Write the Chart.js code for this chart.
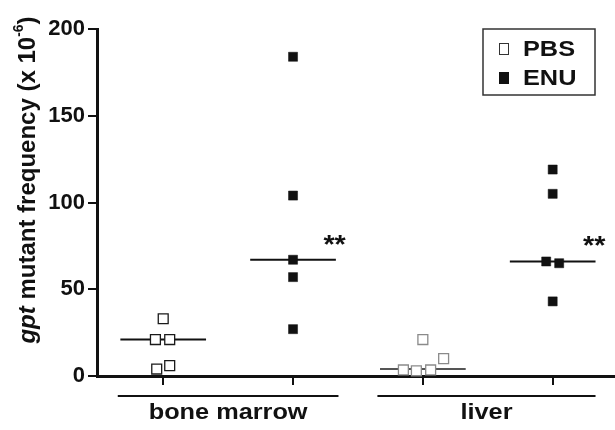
<!DOCTYPE html>
<html><head><meta charset="utf-8">
<script src="https://cdn.jsdelivr.net/npm/chart.js@4.4.0/dist/chart.umd.min.js"></script>
<style>html,body{margin:0;padding:0;background:#fff;}#wrap{width:615px;height:430px;}</style>
</head><body><div id="wrap"><canvas id="c" width="615" height="430"></canvas></div>
<script>
// ---- data ----
const categories = ['bone marrow', 'liver'];
const seriesNames = ['PBS', 'ENU'];
const yTicks = [0, 50, 100, 150, 200];
const xPositions = [0, 1, 2, 3]; // PBS-bone marrow, ENU-bone marrow, PBS-liver, ENU-liver
const pbsBoneMarrow = [33, 21, 21, 4, 6];
const pbsBoneMarrowJitter = [0, -0.06, 0.05, -0.05, 0.05];
const enuBoneMarrow = [184, 104, 67, 57, 27];
const enuBoneMarrowJitter = [0, 0, 0, 0, 0];
const pbsLiver = [21, 10, 3.5, 3, 3.5];
const pbsLiverJitter = [0, 0.16, -0.15, -0.05, 0.06];
const enuLiver = [119, 105, 66, 65, 43];
const enuLiverJitter = [0, 0, -0.05, 0.05, 0];
const medians = [21, 67, 4, 66];
const significance = ['', '**', '', '**'];
const groupSpans = [[-0.35, 1.35], [1.65, 3.33]];

const FONT = '"Liberation Sans", Arial, Helvetica, sans-serif';
const toPts = (vals, jit, pos) => vals.map((v, i) => ({ x: pos + jit[i], y: v }));

const pbsPoints = toPts(pbsBoneMarrow, pbsBoneMarrowJitter, xPositions[0]).concat(toPts(pbsLiver, pbsLiverJitter, xPositions[2]));
const pbsColors = pbsBoneMarrow.map(() => '#1a1a1a').concat(pbsLiver.map(() => '#8a8a8a'));
const enuPoints = toPts(enuBoneMarrow, enuBoneMarrowJitter, xPositions[1]).concat(toPts(enuLiver, enuLiverJitter, xPositions[3]));

const medianSets = medians.map((m, i) => ({
  type: 'line',
  data: [{ x: xPositions[i] - 0.33, y: m }, { x: xPositions[i] + 0.33, y: m }],
  borderColor: i === 2 ? '#555' : '#111',
  borderWidth: 2,
  pointRadius: 0,
  clip: false,
  order: 3
}));

const decor = {
  id: 'decor',
  afterDraw(chart) {
    const { ctx, scales: { x, y } } = chart;
    // y-axis title
    ctx.save();
    ctx.fillStyle = '#111';
    ctx.translate(28, 180);
    ctx.rotate(-Math.PI / 2);
    ctx.textBaseline = 'middle';
    const parts = [
      { t: 'gpt', f: 'italic bold 24px ' + FONT, dy: 0 },
      { t: ' mutant frequency (x 10', f: 'bold 24px ' + FONT, dy: 0 },
      { t: '-6', f: 'bold 14px ' + FONT, dy: -9 },
      { t: ')', f: 'bold 24px ' + FONT, dy: 0 }
    ];
    let total = 0;
    parts.forEach(p => { ctx.font = p.f; p.w = ctx.measureText(p.t).width; total += p.w; });
    let cx = -total / 2;
    parts.forEach(p => { ctx.font = p.f; ctx.fillText(p.t, cx, p.dy); cx += p.w; });
    ctx.restore();

    // group lines and labels
    ctx.save();
    ctx.strokeStyle = '#111';
    ctx.fillStyle = '#111';
    ctx.lineWidth = 2;
    groupSpans.forEach((s, i) => {
      const a = x.getPixelForValue(s[0]), b = x.getPixelForValue(s[1]);
      const ly = y.bottom + 20;
      ctx.beginPath(); ctx.moveTo(a, ly); ctx.lineTo(b, ly); ctx.stroke();
      ctx.save();
      ctx.translate((a + b) / 2, y.bottom + 37);
      ctx.scale(1.15, 1);
      ctx.font = 'bold 22px ' + FONT;
      ctx.textAlign = 'center';
      ctx.textBaseline = 'middle';
      ctx.fillText(categories[i], 0, 0);
      ctx.restore();
    });
    ctx.restore();

    // significance stars
    ctx.save();
    ctx.fillStyle = '#111';
    significance.forEach((s, i) => {
      if (!s) return;
      ctx.save();
      ctx.translate(x.getPixelForValue(xPositions[i] + 0.32), y.getPixelForValue(medians[i]) - 7);
      ctx.scale(1.15, 1);
      ctx.font = 'bold 25px ' + FONT;
      ctx.textAlign = 'center';
      ctx.textBaseline = 'alphabetic';
      ctx.fillText(s, 0, 0);
      ctx.restore();
    });
    ctx.restore();

    // legend
    ctx.save();
    const bx = chart.chartArea.right - 132, by = chart.chartArea.top, bw = 112, bh = 66;
    ctx.strokeStyle = '#333';
    ctx.lineWidth = 1.5;
    ctx.strokeRect(bx, by, bw, bh);
    const rows = [by + 20, by + 49];
    seriesNames.forEach((n, i) => {
      const cy = rows[i];
      if (i === 0) {
        ctx.fillStyle = '#fff'; ctx.fillRect(bx + 16, cy - 6, 10, 12);
        ctx.strokeStyle = '#333'; ctx.lineWidth = 1; ctx.strokeRect(bx + 16.5, cy - 5.5, 9, 11);
      } else {
        ctx.fillStyle = '#111'; ctx.fillRect(bx + 16, cy - 6, 10, 12);
      }
      ctx.save();
      ctx.translate(bx + 40, cy);
      ctx.scale(1.15, 1);
      ctx.fillStyle = '#111';
      ctx.font = 'bold 22px ' + FONT;
      ctx.textBaseline = 'middle';
      ctx.fillText(n, 0, 1);
      ctx.restore();
    });
    ctx.restore();
  }
};

new Chart(document.getElementById('c'), {
  type: 'scatter',
  data: {
    datasets: [
      {
        label: seriesNames[0], data: pbsPoints, pointStyle: 'rect', pointRadius: 7,
        backgroundColor: '#fff', borderColor: pbsColors, borderWidth: 1.3, clip: false, order: 1
      },
      {
        label: seriesNames[1], data: enuPoints, pointStyle: 'rect', pointRadius: 6.4,
        backgroundColor: '#111', borderColor: '#111', borderWidth: 0.5, clip: false, order: 1
      },
      ...medianSets
    ]
  },
  options: {
    responsive: false,
    animation: false,
    devicePixelRatio: 1,
    layout: { autoPadding: false, padding: { top: 29, right: 0, left: 0, bottom: 0 } },
    plugins: { legend: { display: false }, tooltip: { enabled: false } },
    scales: {
      x: {
        type: 'linear', min: -0.51, max: 3.48,
        afterBuildTicks: s => { s.ticks = xPositions.map(v => ({ value: v })); },
        afterFit: s => { s.height = 54; },
        ticks: { display: false },
        grid: { display: true, drawOnChartArea: false, drawTicks: true, tickLength: 9, lineWidth: 2, color: '#111' },
        border: { display: true, width: 3, color: '#111' }
      },
      y: {
        min: 0, max: 200,
        afterBuildTicks: s => { s.ticks = yTicks.map(v => ({ value: v })); },
        afterFit: s => { s.width = 97; },
        ticks: { color: '#111', padding: 3, font: { family: FONT, size: 22, weight: 'bold' } },
        grid: { display: true, drawOnChartArea: false, drawTicks: true, tickLength: 9, lineWidth: 2, color: '#111' },
        border: { display: true, width: 3, color: '#111' }
      }
    }
  },
  plugins: [decor]
});
</script></body></html>
